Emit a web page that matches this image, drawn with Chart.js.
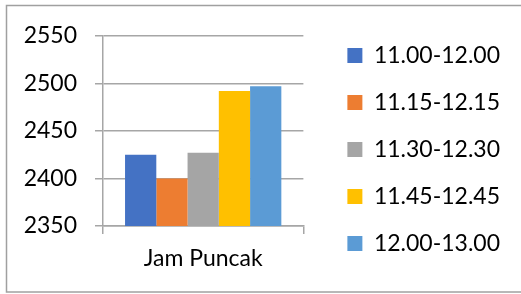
<!DOCTYPE html>
<html>
<head>
<meta charset="utf-8">
<script src="https://cdn.jsdelivr.net/npm/chart.js@4.4.1/dist/chart.umd.min.js"></script>
<style>
  html, body { margin: 0; padding: 0; background: #fff; }
  canvas { display: block; }
</style>
</head>
<body>
<canvas id="peakChart" width="521" height="294"></canvas>
<script>
// data
const categories = ["Jam Puncak"];
const seriesNames = ["11.00-12.00", "11.15-12.15", "11.30-12.30", "11.45-12.45", "12.00-13.00"];
const seriesValues = [2425, 2400, 2427, 2492, 2497];
const seriesColors = ["#4472C4", "#ED7D31", "#A5A5A5", "#FFC000", "#5B9BD5"];
const yTicks = [2350, 2400, 2450, 2500, 2550];

const lineGray = "#a6a6a6";
const fontSize = 23;

Chart.defaults.font.family = "Lato";
Chart.defaults.color = "#000";

// outer frame like the office chart box
const frame = {
  id: "frame",
  afterDraw(chart) {
    const ctx = chart.ctx;
    ctx.save();
    ctx.strokeStyle = "#a0a0a0";
    ctx.lineWidth = 1.5;
    ctx.strokeRect(6.5, 5.5, 530, 286.5);
    ctx.restore();
  },
};

const ctx = document.getElementById("peakChart").getContext("2d");

new Chart(ctx, {
  type: "bar",
  data: {
    labels: categories,
    datasets: seriesNames.map((name, i) => ({
      label: name,
      data: [seriesValues[i]],
      backgroundColor: seriesColors[i],
      borderWidth: 0,
      categoryPercentage: 0.78,
      barPercentage: 1.0,
    })),
  },
  options: {
    responsive: false,
    animation: false,
    layout: { padding: { top: 5, right: 11, bottom: 0, left: 0 } },
    plugins: {
      legend: {
        position: "right",
        maxWidth: 260,
        labels: {
          boxWidth: 15,
          boxHeight: 15,
          padding: 24,
          font: { size: fontSize },
          color: "#000",
        },
      },
      tooltip: { enabled: false },
    },
    scales: {
      x: {
        position: "bottom",
        grid: {
          drawOnChartArea: false,
          drawTicks: true,
          tickLength: 8,
          color: lineGray,
          lineWidth: 1.5,
        },
        border: { display: true, color: lineGray, width: 1.5 },
        ticks: { padding: 11, font: { size: fontSize } },
        afterFit: (s) => { s.height = 68; },
      },
      xTop: {
        type: "category",
        position: "top",
        grid: { display: false },
        border: { display: false },
        ticks: { display: false },
        afterFit: (s) => { s.height = 31; },
      },
      y: {
        min: yTicks[0],
        max: yTicks[yTicks.length - 1],
        afterBuildTicks: (s) => { s.ticks = yTicks.map((v) => ({ value: v })); },
        grid: {
          color: lineGray,
          lineWidth: 1.5,
          tickLength: 8,
        },
        border: { display: true, color: lineGray, width: 1.5 },
        ticks: {
          padding: 18,
          font: { size: fontSize },
          callback: (v) => String(v),
        },
        afterFit: (s) => { s.width = 103; },
      },
      yRight: {
        type: "linear",
        position: "right",
        grid: { display: false },
        border: { display: false },
        ticks: { display: false },
        afterFit: (s) => { s.width = 20; },
      },
    },
  },
  plugins: [frame],
});
</script>
</body>
</html>
